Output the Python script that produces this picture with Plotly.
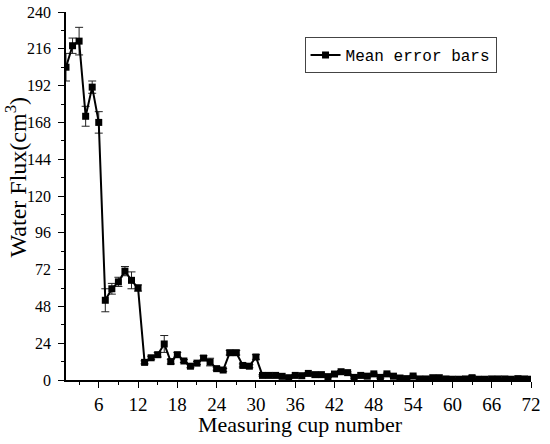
import plotly.graph_objects as go

cup_number = list(range(1, 73))
water_flux = [
    204, 218, 221, 172, 191, 168, 52, 59.5, 64, 71,
    65, 60, 11.5, 14.5, 16.5, 23.5, 12, 16.5, 12.4, 9,
    11, 14.3, 11.7, 7.4, 6.5, 17.8, 17.8, 9.5, 9, 15,
    3, 3, 3, 2.4, 1.5, 3, 2.8, 4.3, 3.5, 3.5,
    2.2, 3.9, 5.4, 4.8, 1.7, 3, 2.5, 4, 1.7, 4,
    2.5, 1.3, 0.9, 2.6, 0.7, 0.7, 1.5, 1.5, 0.7, 0.5,
    0.5, 0.7, 1.5, 0.5, 0.5, 0.7, 0.7, 0.7, 0.5, 0.9,
    0.7, 0.5,
]
flux_error = [
    9, 5, 9, 6.5, 4, 7, 7.5, 3.5, 3, 3,
    5.5, 2, 1, 1, 1.5, 5.5, 1.5, 1.5, 1, 1,
    1, 1.5, 2.5, 1, 1, 1.5, 1.5, 1, 1, 1.5,
    0.5, 0.5, 0.5, 0.5, 0.5, 0.5, 0.5, 0.5, 0.5, 0.5,
    0.5, 0.5, 0.8, 0.5, 0.5, 0.5, 0.5, 0.5, 0.5, 0.5,
    0.5, 0.5, 0.5, 0.5, 0.5, 0.5, 0.5, 0.5, 0.5, 0.5,
    0.5, 0.5, 1.2, 0.5, 0.5, 0.5, 0.5, 0.5, 0.5, 0.5,
    0.5, 0.5,
]
x_ticks = list(range(6, 73, 6))
y_ticks = list(range(0, 241, 24))

serif = "Liberation Serif"

fig = go.Figure()
fig.add_trace(go.Scatter(
    x=cup_number,
    y=water_flux,
    mode="lines+markers",
    name="Mean error bars",
    line=dict(color="black", width=2),
    marker=dict(symbol="square", size=7, color="black"),
    error_y=dict(type="data", array=flux_error, visible=True,
                 color="#222222", thickness=1, width=4),
))

axis_common = dict(
    showline=True, linecolor="black", linewidth=1.5,
    ticks="outside", ticklen=6, tickwidth=1.2, tickcolor="black",
    showgrid=False, zeroline=False, mirror=False,
    ticklabeloverflow="allow", automargin=False,
)

fig.update_xaxes(
    range=[1, 72], tickvals=x_ticks,
    tickfont=dict(family=serif, size=19, color="black"),
    minor=dict(ticks="outside", ticklen=3, tickcolor="black", dtick=3, tick0=0),
    **axis_common,
)
fig.update_yaxes(
    range=[0, 240], tickvals=y_ticks,
    tickfont=dict(family=serif, size=16, color="black"),
    ticklabelstandoff=4,
    minor=dict(ticks="outside", ticklen=3, tickcolor="black", dtick=12, tick0=0),
    **axis_common,
)

# axis titles as annotations so they sit where the original puts them
fig.add_annotation(
    text="Measuring cup number", xref="paper", yref="paper",
    x=0.505, y=-0.12, xanchor="center", yanchor="middle", showarrow=False,
    font=dict(family=serif, size=22, color="black"),
)
fig.add_annotation(
    text="Water Flux(cm<sup>3</sup>)", xref="paper", yref="paper",
    x=-0.108, y=0.55, xanchor="center", yanchor="middle", showarrow=False,
    textangle=-90, font=dict(family=serif, size=24, color="black"),
)

fig.update_layout(
    width=550, height=444,
    margin=dict(l=66, r=19, t=12, b=64),
    plot_bgcolor="white", paper_bgcolor="white",
    showlegend=True,
    legend=dict(
        x=0.513, y=0.932, xanchor="left", yanchor="top",
        bordercolor="#444444", borderwidth=1, bgcolor="white",
        font=dict(family="Liberation Mono", size=16, color="black"),
        itemwidth=30,
    ),
)

# drop the default body margin so the figure sits at the window's corner
fig.write_html("out.html", config={"displayModeBar": False},
               post_script="document.body.style.margin = '0';")
